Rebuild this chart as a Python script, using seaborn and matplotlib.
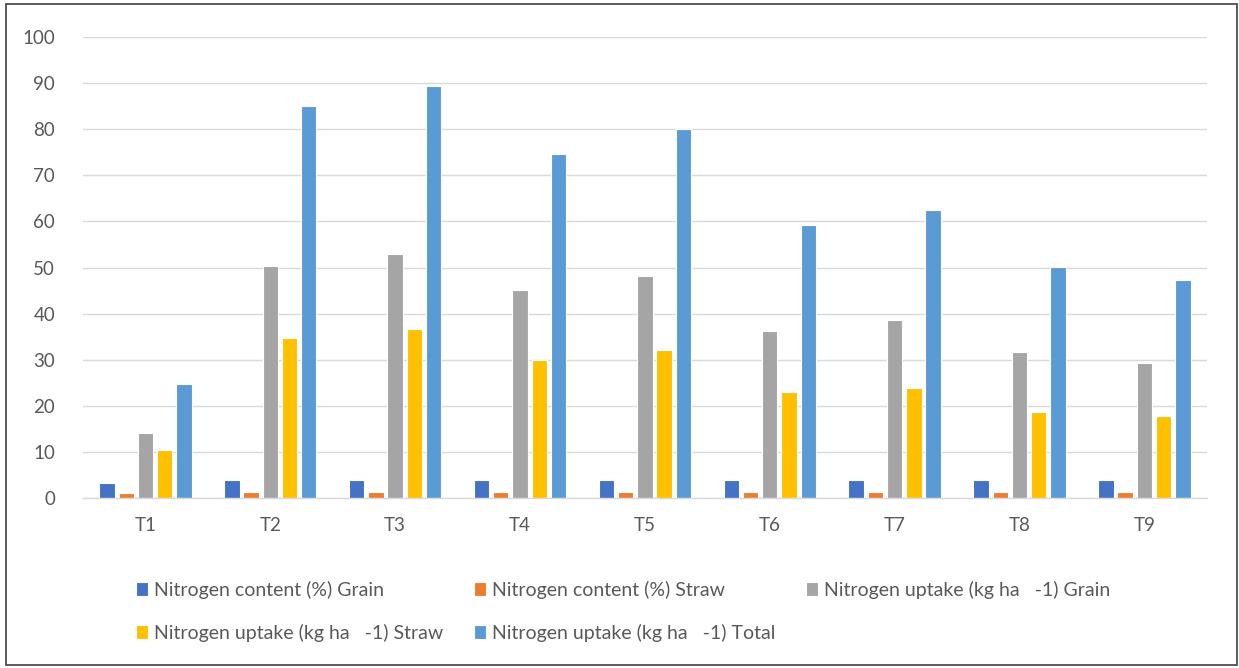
import pandas as pd
import matplotlib.pyplot as plt
import seaborn as sns
from matplotlib.patches import Rectangle

# Veriler
treatments = ['T1', 'T2', 'T3', 'T4', 'T5', 'T6', 'T7', 'T8', 'T9']
n_content_grain = [3.3, 3.9, 3.9, 3.9, 3.9, 3.9, 3.9, 3.9, 3.9]
n_content_straw = [1.0, 1.3, 1.3, 1.3, 1.3, 1.3, 1.3, 1.3, 1.3]
n_uptake_grain = [14.0, 50.4, 53.0, 45.2, 48.2, 36.3, 38.6, 31.7, 29.3]
n_uptake_straw = [10.5, 34.8, 36.6, 30.0, 32.2, 22.9, 23.8, 18.6, 17.7]
n_uptake_total = [24.7, 85.0, 89.3, 74.6, 80.1, 59.3, 62.4, 50.1, 47.2]

series_names = [
    'Nitrogen content (%) Grain',
    'Nitrogen content (%) Straw',
    'Nitrogen uptake (kg ha   -1) Grain',
    'Nitrogen uptake (kg ha   -1) Straw',
    'Nitrogen uptake (kg ha   -1) Total',
]
series_values = [n_content_grain, n_content_straw, n_uptake_grain, n_uptake_straw, n_uptake_total]
colors = ['#4472C4', '#ED7D31', '#A5A5A5', '#FFC000', '#5B9BD5']

rows = []
for name, vals in zip(series_names, series_values):
    for t, v in zip(treatments, vals):
        rows.append({'Treatment': t, 'Series': name, 'Value': v})
df = pd.DataFrame(rows)

sns.set_style('white')
plt.rcParams['font.family'] = ['Lato', 'DejaVu Sans']

fig = plt.figure(figsize=(12.39, 6.68), dpi=100)
ax = fig.add_axes([0.067, 0.2545, 0.907, 0.69])

sns.barplot(data=df, x='Treatment', y='Value', hue='Series', palette=colors, saturation=1,
            width=0.77, gap=0.2, edgecolor='white', linewidth=0.8, ax=ax, legend=True)

ax.set_ylim(0, 100)
ax.set_yticks(range(0, 101, 10))
ax.set_xlim(-0.5, 8.5)
ax.set_xlabel('')
ax.set_ylabel('')
ax.yaxis.grid(True, color='#D9D9D9', linewidth=1)
ax.set_axisbelow(True)
for s in ['top', 'right', 'left']:
    ax.spines[s].set_visible(False)
ax.spines['bottom'].set_color('#D9D9D9')
ax.spines['bottom'].set_linewidth(1)
ax.tick_params(axis='both', length=0, labelsize=13.5, colors='#595959', pad=14)
ax.tick_params(axis='y', pad=20)

# Legend: satır satır doldurmak için sırayı değiştir
handles, labels = ax.get_legend_handles_labels()
ax.get_legend().remove()
order = [0, 3, 1, 4, 2]
fig.legend([handles[i] for i in order], [labels[i] for i in order],
           loc='upper left', bbox_to_anchor=(0.110, 0.131),
           ncol=3, frameon=False, fontsize=14, labelcolor='#595959',
           handlelength=0.6, handleheight=0.7, handletextpad=0.3,
           columnspacing=1.6, labelspacing=1.3, borderaxespad=0, borderpad=0,
           bbox_transform=fig.transFigure)

# Çerçeve
fig.patches.append(Rectangle((0.005, 0.004), 0.993, 0.99, transform=fig.transFigure,
                             fill=False, edgecolor='#404040', linewidth=1.2))

fig.savefig('out.png', dpi=100)
